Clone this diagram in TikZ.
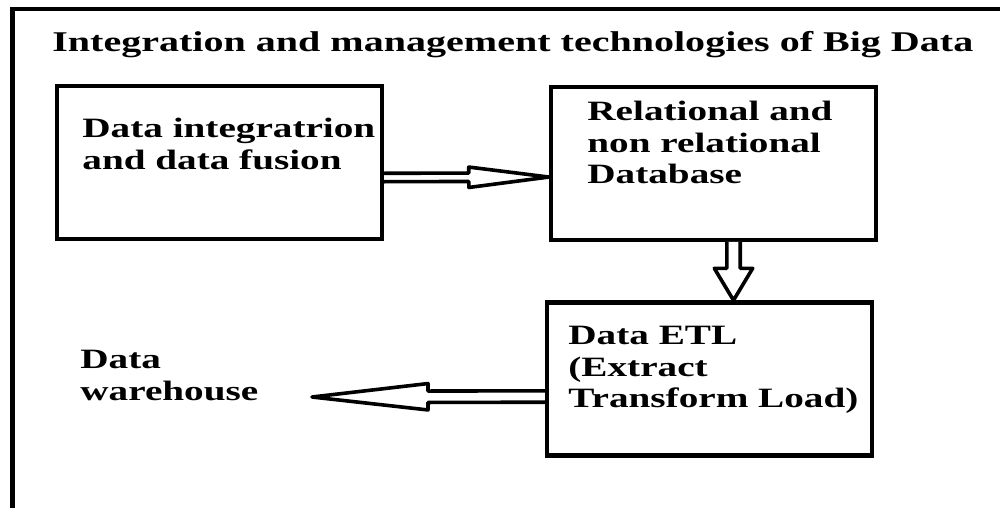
\documentclass[tikz,border=0pt]{standalone}
\usepackage{fontspec}
\setmainfont{Liberation Serif}[FakeStretch=1.4]
\usetikzlibrary{calc}

% hollow block arrow: from, to, shaft half width, head half width, head length
\newcommand{\hollowarrow}[5]{%
    \coordinate (hb) at ($(#2)!#5!(#1)$);
    \draw[arrowline] ($(#1)!#3!90:(#2)$) -- ($(hb)!#3!90:(#2)$) -- ($(hb)!#4!90:(#2)$)
        -- (#2) -- ($(hb)!#4!-90:(#2)$) -- ($(hb)!#3!-90:(#2)$) -- ($(#1)!#3!-90:(#2)$);
}

\begin{document}
\begin{tikzpicture} [
    x=0.5pt, y=-0.5pt,
    box/.style = {draw, line width=2.2pt, minimum width=162.5pt, minimum height=76.5pt, inner sep=0pt},
    txt/.style = {font=\fontsize{14}{15.75}\selectfont\bfseries, align=left, inner sep=0pt, anchor=north west},
    arrowline/.style = {line width=1.8pt, line join=round, fill=white}
]
    \useasboundingbox (0,0) rectangle (1000,508);
    \draw[line width=2.3pt] (12.5,9) rectangle (1020,530);

    \node [txt, anchor=base west, font=\fontsize{14.3}{16}\selectfont\bfseries] (title) at (52,52)
        {Integration and management technologies of Big Data};

    \node [box] (integ) at (219.5,162.5) {};
    \node [box] (db) at (713.5,163.25) {};
    \node [box] (etl) at (709.5,379) {};

    \node [txt] (integtxt) at (82,118) {Data integratrion\\and data fusion};
    \node [txt] (dbtxt) at (587,101) {Relational and\\non relational\\Database};
    \node [txt] (etltxt) at (568,326) {Data ETL\\(Extract\\Transform Load)};
    \node [txt] (wh) at (80,350) {Data\\warehouse};
    \coordinate (whtip) at (312,397);

    \hollowarrow{[yshift=-7.5pt]integ.east}{[yshift=-6.9pt]db.west}{2.1pt}{5.1pt}{40pt}
    \hollowarrow{[xshift=10pt]db.south}{[xshift=12pt]etl.north}{3.35pt}{9.6pt}{16pt}
    \hollowarrow{[yshift=-8.75pt]etl.west}{whtip}{2.85pt}{6.6pt}{58pt}
\end{tikzpicture}
\end{document}
